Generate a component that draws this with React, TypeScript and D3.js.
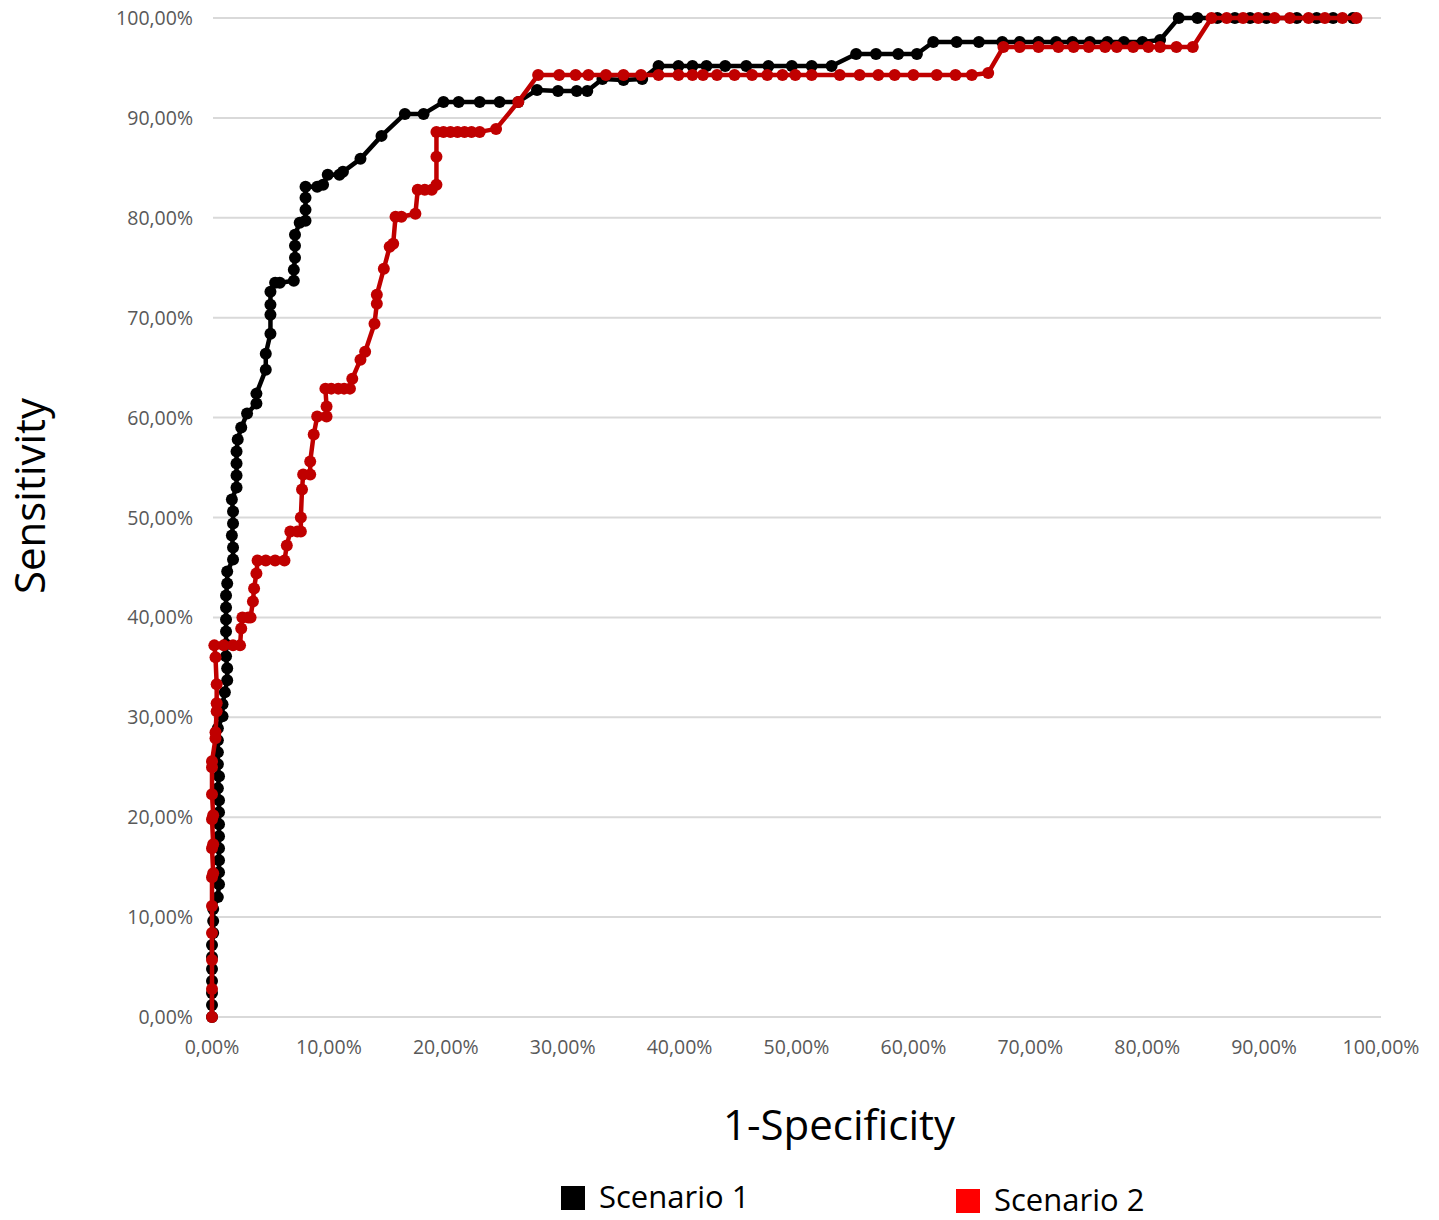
import React, { useRef, useEffect } from "react";
import * as d3 from "d3";

// Scenario 1 (black) ROC points: [1-specificity %, sensitivity %]
const scenario1: [number, number][] = [
  [0, 0], [0, 1.2], [0, 2.4], [0, 3.6], [0, 4.8], [0, 6.0], [0, 7.2], [0.1, 8.4], [0.1, 9.6], [0.1, 10.8],
  [0.5, 12.0], [0.6, 13.3], [0.6, 14.5], [0.6, 15.7], [0.6, 16.9], [0.6, 18.1], [0.6, 19.3], [0.6, 20.5],
  [0.6, 21.7], [0.5, 22.9], [0.6, 24.1], [0.5, 25.3], [0.5, 26.5], [0.5, 27.7], [0.5, 28.9], [0.9, 30.1],
  [0.9, 31.3], [1.1, 32.5], [1.3, 33.7], [1.3, 34.9], [1.2, 36.1], [1.2, 37.3], [1.2, 38.6], [1.2, 39.8],
  [1.2, 41.0], [1.2, 42.2], [1.3, 43.4], [1.3, 44.6], [1.8, 45.8], [1.8, 47.0], [1.7, 48.2], [1.8, 49.4],
  [1.8, 50.6], [1.7, 51.8], [2.1, 53.0], [2.1, 54.2], [2.1, 55.4], [2.1, 56.6], [2.2, 57.8], [2.5, 59.0],
  [3.0, 60.4], [3.8, 61.4], [3.8, 62.4], [4.6, 64.8], [4.6, 66.4], [5.0, 68.4], [5.0, 70.3], [5.0, 71.3],
  [5.0, 72.6], [5.4, 73.5], [5.8, 73.5], [7.0, 73.7], [7.0, 74.8], [7.1, 76.0], [7.1, 77.2], [7.1, 78.3],
  [7.5, 79.5], [8.0, 79.7], [8.0, 80.8], [8.0, 82.0], [8.0, 83.1], [9.0, 83.1], [9.5, 83.3], [9.9, 84.3],
  [10.9, 84.3], [11.2, 84.6], [12.7, 85.9], [14.5, 88.2], [16.5, 90.4], [18.1, 90.4], [19.8, 91.6],
  [21.1, 91.6], [22.9, 91.6], [24.6, 91.6], [26.2, 91.6], [27.8, 92.8], [29.6, 92.7], [31.2, 92.7],
  [32.1, 92.7], [33.4, 93.9], [35.2, 93.8], [36.8, 93.9], [38.2, 95.2], [39.9, 95.2], [41.1, 95.2],
  [42.3, 95.2], [43.9, 95.2], [45.7, 95.2], [47.6, 95.2], [49.6, 95.2], [51.3, 95.2], [53.0, 95.2],
  [55.1, 96.4], [56.8, 96.4], [58.7, 96.4], [60.3, 96.4], [61.7, 97.6], [63.7, 97.6], [65.6, 97.6],
  [67.6, 97.6], [69.1, 97.6], [70.7, 97.6], [72.2, 97.6], [73.6, 97.6], [75.1, 97.6], [76.6, 97.6],
  [78.0, 97.6], [79.6, 97.6], [81.1, 97.8], [82.7, 100], [84.3, 100], [86.0, 100], [87.5, 100],
  [88.8, 100], [90.2, 100], [92.8, 100], [94.5, 100], [95.9, 100], [97.6, 100],
];

// Scenario 2 (red) ROC points
const scenario2: [number, number][] = [
  [0, 0], [0, 2.8], [0, 5.7], [0, 8.4], [0, 11.1], [0, 14.0], [0.1, 14.4], [0, 16.9], [0.1, 17.3],
  [0, 19.8], [0.1, 20.2], [0, 22.3], [0, 25.0], [0, 25.6], [0.3, 27.9], [0.3, 28.5], [0.4, 30.6],
  [0.4, 31.4], [0.4, 33.3], [0.3, 36.0], [0.2, 37.2], [1.0, 37.2], [1.8, 37.2], [2.4, 37.2], [2.5, 38.9],
  [2.6, 40.0], [3.1, 40.0], [3.3, 40.0], [3.5, 41.6], [3.6, 42.9], [3.8, 44.4], [3.9, 45.7], [4.6, 45.7],
  [5.4, 45.7], [6.2, 45.7], [6.4, 47.2], [6.7, 48.6], [7.3, 48.6], [7.6, 48.6], [7.6, 50.0], [7.7, 52.8],
  [7.8, 54.3], [8.4, 54.3], [8.4, 55.6], [8.7, 58.3], [9.0, 60.1], [9.8, 60.1], [9.8, 61.1], [9.7, 62.9],
  [10.2, 62.9], [10.8, 62.9], [11.3, 62.9], [11.8, 62.9], [12.0, 63.9], [12.7, 65.8], [13.1, 66.6],
  [13.9, 69.4], [14.1, 71.4], [14.1, 72.3], [14.7, 74.9], [15.2, 77.1], [15.5, 77.4], [15.7, 80.1],
  [16.2, 80.1], [17.4, 80.4], [17.6, 82.8], [18.2, 82.8], [18.8, 82.8], [19.2, 83.3], [19.2, 86.1],
  [19.2, 88.6], [19.8, 88.6], [20.4, 88.6], [21.0, 88.6], [21.6, 88.6], [22.2, 88.6], [22.9, 88.6],
  [24.3, 88.9], [26.2, 91.6], [27.9, 94.3], [29.7, 94.3], [31.1, 94.3], [32.2, 94.3], [33.7, 94.3],
  [35.2, 94.3], [36.7, 94.3], [38.2, 94.3], [39.9, 94.3], [41.1, 94.3], [42.0, 94.3], [43.2, 94.3],
  [44.7, 94.3], [46.2, 94.3], [47.5, 94.3], [48.8, 94.3], [49.9, 94.3], [51.3, 94.3], [53.7, 94.3],
  [55.4, 94.3], [57.0, 94.3], [58.4, 94.3], [60.0, 94.3], [62.0, 94.3], [63.6, 94.3], [65.0, 94.3],
  [66.4, 94.5], [67.7, 97.1], [69.1, 97.1], [70.7, 97.1], [72.4, 97.1], [73.7, 97.1], [75.0, 97.1],
  [76.4, 97.1], [77.4, 97.1], [78.8, 97.1], [80.1, 97.1], [81.1, 97.1], [82.5, 97.1], [83.9, 97.1],
  [85.5, 100], [86.8, 100], [88.2, 100], [89.5, 100], [90.9, 100], [92.2, 100], [93.8, 100], [95.2, 100],
  [96.7, 100], [97.9, 100],
];

const tickValues = [0, 10, 20, 30, 40, 50, 60, 70, 80, 90, 100];
const seriesNames = ["Scenario 1", "Scenario 2"];
const seriesColors = ["#000000", "#c00000"];
const legendColors = ["#000000", "#ff0000"];

const fmt = (v: number) => v.toFixed(2).replace(".", ",") + "%";

const RocChart = () => {
  const svgRef = useRef<SVGSVGElement>(null);

  useEffect(() => {
    document.body.style.margin = "0";
    const svg = d3.select(svgRef.current);
    svg.selectAll("*").remove();

    const width = 1439;
    const height = 1220;
    const left = 212, right = 1381, top = 18, bottom = 1017;

    svg.attr("width", width).attr("height", height).style("background", "#fff");

    const x = d3.scaleLinear().domain([0, 100]).range([left, right]);
    const y = d3.scaleLinear().domain([0, 100]).range([bottom, top]);

    // gridlines
    svg
      .append("g")
      .selectAll("line")
      .data(tickValues)
      .join("line")
      .attr("x1", left + 1)
      .attr("x2", right)
      .attr("y1", (d) => y(d))
      .attr("y2", (d) => y(d))
      .attr("stroke", "#d9d9d9")
      .attr("stroke-width", 2);

    const tickFont = "'Open Sans', 'Noto Sans', sans-serif";

    // y tick labels
    svg
      .append("g")
      .selectAll("text")
      .data(tickValues)
      .join("text")
      .attr("x", 193)
      .attr("y", (d) => y(d) + 7)
      .attr("text-anchor", "end")
      .attr("font-family", tickFont)
      .attr("font-size", 19.5)
      .attr("fill", "#595959")
      .text((d) => fmt(d));

    // x tick labels
    svg
      .append("g")
      .selectAll("text")
      .data(tickValues)
      .join("text")
      .attr("x", (d) => x(d))
      .attr("y", 1054)
      .attr("text-anchor", "middle")
      .attr("font-family", tickFont)
      .attr("font-size", 19.5)
      .attr("fill", "#595959")
      .text((d) => fmt(d));

    const line = d3
      .line<[number, number]>()
      .x((d) => x(d[0]))
      .y((d) => y(d[1]));

    [scenario1, scenario2].forEach((data, i) => {
      const g = svg.append("g");
      g.append("path")
        .datum(data)
        .attr("fill", "none")
        .attr("stroke", seriesColors[i])
        .attr("stroke-width", 4.5)
        .attr("stroke-linejoin", "round")
        .attr("d", line);
      g.selectAll("circle")
        .data(data)
        .join("circle")
        .attr("cx", (d) => x(d[0]))
        .attr("cy", (d) => y(d[1]))
        .attr("r", 6)
        .attr("fill", seriesColors[i]);
    });

    const titleFont = "'Open Sans', 'Noto Sans', sans-serif";

    // axis titles
    svg
      .append("text")
      .attr("x", 839)
      .attr("y", 1140)
      .attr("text-anchor", "middle")
      .attr("font-family", titleFont)
      .attr("font-size", 42)
      .attr("fill", "#000")
      .text("1-Specificity");

    svg
      .append("text")
      .attr("transform", "translate(45,496) rotate(-90)")
      .attr("text-anchor", "middle")
      .attr("font-family", titleFont)
      .attr("font-size", 42)
      .attr("fill", "#000")
      .text("Sensitivity");

    // legend
    const legendPos = [
      { x: 561, y: 1186 },
      { x: 956, y: 1189 },
    ];
    seriesNames.forEach((name, i) => {
      const p = legendPos[i];
      svg
        .append("rect")
        .attr("x", p.x)
        .attr("y", p.y)
        .attr("width", 24)
        .attr("height", 24)
        .attr("fill", legendColors[i]);
      svg
        .append("text")
        .attr("x", p.x + 38)
        .attr("y", p.y + 22)
        .attr("font-family", titleFont)
        .attr("font-size", 31)
        .attr("fill", "#000")
        .text(name);
    });
  }, []);

  return <svg ref={svgRef} style={{ display: "block" }}></svg>;
};

export default function App() {
  return <RocChart />;
}
